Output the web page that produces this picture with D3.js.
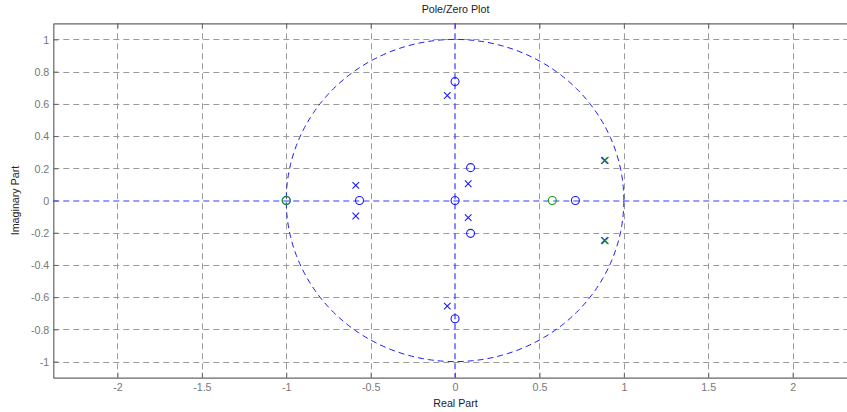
<!DOCTYPE html>
<html><head><meta charset="utf-8">
<script src="https://cdn.jsdelivr.net/npm/d3@7"></script>
<style>body{margin:0;background:#fff;} svg{display:block;}</style>
</head><body>
<svg id="c" width="847" height="412"></svg>
<script>
const xTicks = [-2, -1.5, -1, -0.5, 0, 0.5, 1, 1.5, 2];
const yTicks = [-1, -0.8, -0.6, -0.4, -0.2, 0, 0.2, 0.4, 0.6, 0.8, 1];
const zerosBlueRe = [0, 0, 0, 0.092, 0.092, -0.566, -1, 0.713];
const zerosBlueIm = [0.738, -0.734, 0, 0.204, -0.204, 0, 0, 0];
const zerosGreenRe = [-1, 0.576];
const zerosGreenIm = [0, 0];
const polesBlueRe = [-0.046, -0.046, -0.588, -0.588, 0.078, 0.078, 0.885, 0.885];
const polesBlueIm = [0.652, -0.656, 0.094, -0.096, 0.104, -0.106, 0.248, -0.248];
const polesGreenRe = [0.89, 0.89];
const polesGreenIm = [0.25, -0.25];

const svg = d3.select("#c");
const L = 53.3, T = 23.3, B = 377.7;
const x = d3.scaleLinear().domain([-2.38, 2.38]).range([L, L + 2 * 2.38 * 168.8]);
const y = d3.scaleLinear().domain([-1.1, 1.1]).range([B, T]);
const R = x.range()[1];
const font = "'Liberation Sans', Arial, sans-serif";
const fmt = d => d3.format("~g")(d).replace("\u2212", "-");

// grid
const g = svg.append("g");
g.selectAll(".gx").data(xTicks.filter(d => d !== 0)).enter().append("line")
  .attr("x1", d => Math.round(x(d)) + 0.5).attr("x2", d => Math.round(x(d)) + 0.5)
  .attr("y1", T).attr("y2", B)
  .attr("stroke", "#9a9a9a").attr("stroke-width", 1).attr("stroke-dasharray", "6,4");
g.selectAll(".gy").data(yTicks.filter(d => d !== 0)).enter().append("line")
  .attr("y1", d => Math.round(y(d)) + 0.5).attr("y2", d => Math.round(y(d)) + 0.5)
  .attr("x1", L).attr("x2", R)
  .attr("stroke", "#9a9a9a").attr("stroke-width", 1).attr("stroke-dasharray", "6,4");

const axL = d3.axisLeft(y).tickValues(yTicks).tickSizeInner(-5).tickSizeOuter(0).tickPadding(4).tickFormat(fmt);
const axB = d3.axisBottom(x).tickValues(xTicks).tickSizeInner(-5).tickSizeOuter(0).tickPadding(6).tickFormat(fmt);
const axT = d3.axisTop(x).tickValues(xTicks).tickSizeInner(-5).tickSizeOuter(0).tickFormat("");
const ga = svg.append("g").attr("transform", `translate(${L},0)`).call(axL);
const gb = svg.append("g").attr("transform", `translate(0,${B})`).call(axB);
const gt = svg.append("g").attr("transform", `translate(0,${T})`).call(axT);
[ga, gb, gt].forEach(s => {
  s.select(".domain").attr("stroke", "#666").attr("stroke-width", 1.2);
  s.selectAll(".tick line").attr("stroke", "#666");
  s.selectAll("text").attr("fill", "#777").style("font-family", font).style("font-size", "10.7px");
});
ga.selectAll("text").attr("dy", "0.35em");

// unit circle and axes lines
const circ = d3.range(0, 361, 1).map(a => [Math.cos(a * Math.PI / 180), Math.sin(a * Math.PI / 180)]);
svg.append("path").datum(circ)
  .attr("d", d3.line().x(d => x(d[0])).y(d => y(d[1])))
  .attr("fill", "none").attr("stroke", "#1a1aff").attr("stroke-width", 1).attr("stroke-dasharray", "6,4");
svg.append("line").attr("x1", L).attr("x2", R).attr("y1", Math.round(y(0))).attr("y2", Math.round(y(0)))
  .attr("stroke", "#3a3aff").attr("stroke-width", 1.2).attr("stroke-dasharray", "6,4");
svg.append("line").attr("x1", Math.round(x(0))).attr("x2", Math.round(x(0))).attr("y1", T).attr("y2", B)
  .attr("stroke", "#3a3aff").attr("stroke-width", 1.2).attr("stroke-dasharray", "6,4");

function zeros(re, im, col) {
  svg.append("g").selectAll("circle").data(re.map((r, i) => [r, im[i]])).enter().append("circle")
    .attr("cx", d => x(d[0])).attr("cy", d => y(d[1])).attr("r", 4)
    .attr("fill", "none").attr("stroke", col).attr("stroke-width", 1.1);
}
function poles(re, im, col) {
  const s = 3.3;
  svg.append("g").selectAll("path").data(re.map((r, i) => [r, im[i]])).enter().append("path")
    .attr("d", d => { const cx = x(d[0]), cy = y(d[1]);
      return `M${cx - s},${cy - s}L${cx + s},${cy + s}M${cx - s},${cy + s}L${cx + s},${cy - s}`; })
    .attr("fill", "none").attr("stroke", col).attr("stroke-width", 1.1);
}
zeros(zerosBlueRe, zerosBlueIm, "#1a1aff");
zeros(zerosGreenRe, zerosGreenIm, "#1a9a1a");
poles(polesBlueRe, polesBlueIm, "#1a1aff");
poles(polesGreenRe, polesGreenIm, "#1a9a1a");

// labels
svg.append("text").attr("x", 455.5).attr("y", 13).attr("text-anchor", "middle")
  .style("font-family", font).style("font-size", "10.7px").attr("fill", "#222").text("Pole/Zero Plot");
svg.append("text").attr("x", 455.5).attr("y", 406.5).attr("text-anchor", "middle")
  .style("font-family", font).style("font-size", "10.7px").attr("fill", "#222").text("Real Part");
svg.append("text").attr("transform", `translate(19,${y(0)}) rotate(-90)`).attr("text-anchor", "middle")
  .style("font-family", font).style("font-size", "10.7px").attr("fill", "#222").text("Imaginary Part");
</script>
</body></html>
